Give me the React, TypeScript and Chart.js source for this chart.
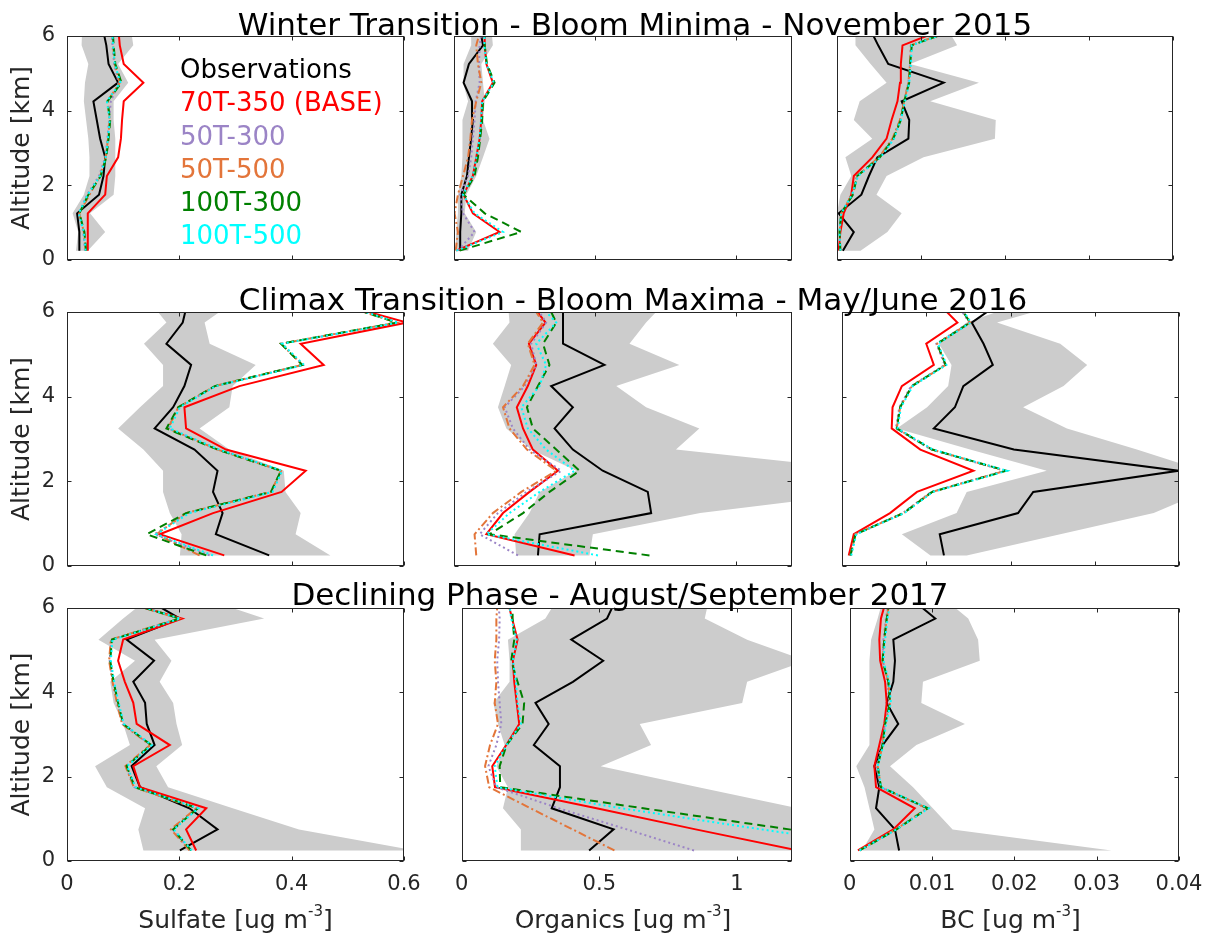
import React, { useEffect, useRef } from "react";
import { Chart, registerables } from "chart.js";

Chart.register(...registerables);

// ---------------- data ----------------
const ALTITUDE_KM = [0.25, 0.75, 1.25, 1.75, 2.25, 2.75, 3.25, 3.75, 4.25, 4.75, 5.25, 5.75, 6.25];
const ALT_TICKS = [0, 2, 4, 6];
const SULFATE_TICKS = [0, 0.2, 0.4, 0.6];
const ORGANICS_TICKS = [0, 0.5, 1];
const BC_TICKS = [0, 0.01, 0.02, 0.03, 0.04];
const X_TICKS = [SULFATE_TICKS, ORGANICS_TICKS, BC_TICKS];
const X_MAX = [0.6, 1.2, 0.04];
const Y_MAX = 6;

const SERIES_LABELS = ["Observations", "70T-350 (BASE)", "50T-300", "50T-500", "100T-300", "100T-500"];
const ROW_TITLES = [
  "Winter Transition - Bloom Minima - November 2015",
  "Climax Transition - Bloom Maxima - May/June 2016",
  "Declining Phase - August/September 2017",
];
const X_LABELS = ["Sulfate [ug m", "Organics [ug m", "BC [ug m"];
const X_LABEL_EXP = "-3";
const Y_LABEL = "Altitude [km]";

// Winter Transition - November 2015
const W_SO4_OBS = [0.022, 0.022, 0.018, 0.057, 0.065, 0.068, 0.059, 0.053, 0.047, 0.091, 0.074, 0.070, 0.063];
const W_SO4_BASE = [0.037, 0.037, 0.037, 0.068, 0.071, 0.091, 0.096, 0.098, 0.101, 0.136, 0.101, 0.094, 0.091];
const W_SO4_50T300 = [0.032, 0.029, 0.021, 0.036, 0.057, 0.068, 0.072, 0.075, 0.078, 0.092, 0.084, 0.081, 0.079];
const W_SO4_50T500 = [0.033, 0.030, 0.022, 0.040, 0.059, 0.069, 0.073, 0.076, 0.072, 0.094, 0.085, 0.082, 0.080];
const W_SO4_100T300 = [0.034, 0.031, 0.022, 0.038, 0.060, 0.070, 0.074, 0.077, 0.072, 0.097, 0.086, 0.083, 0.081];
const W_SO4_100T500 = [0.033, 0.030, 0.021, 0.037, 0.059, 0.069, 0.073, 0.076, 0.071, 0.095, 0.085, 0.082, 0.080];
const W_SO4_MIN = [0.016, 0.020, 0.010, 0.030, 0.040, 0.040, 0.038, 0.034, 0.030, 0.032, 0.038, 0.026, 0.027];
const W_SO4_MAX = [0.037, 0.068, 0.041, 0.083, 0.086, 0.086, 0.086, 0.083, 0.083, 0.109, 0.091, 0.118, 0.113];

const W_ORG_OBS = [0.022, 0.022, 0.026, 0.026, 0.046, 0.053, 0.061, 0.067, 0.064, 0.034, 0.053, 0.103, 0.091];
const W_ORG_BASE = [0.008, 0.162, 0.067, 0.034, 0.067, 0.079, 0.091, 0.097, 0.100, 0.138, 0.115, 0.109, 0.109];
const W_ORG_50T300 = [0.014, 0.073, 0.032, 0.022, 0.050, 0.061, 0.067, 0.073, 0.077, 0.091, 0.089, 0.091, 0.100];
const W_ORG_50T500 = [0.006, 0.014, 0.002, 0.014, 0.032, 0.050, 0.058, 0.064, 0.079, 0.097, 0.085, 0.079, 0.097];
const W_ORG_100T300 = [0.020, 0.239, 0.109, 0.034, 0.073, 0.085, 0.093, 0.100, 0.103, 0.144, 0.117, 0.109, 0.109];
const W_ORG_100T500 = [0.008, 0.174, 0.073, 0.032, 0.067, 0.079, 0.091, 0.096, 0.100, 0.141, 0.115, 0.108, 0.109];
const W_ORG_MIN = [0.006, 0.008, 0.014, 0.014, 0.026, 0.030, 0.030, 0.030, 0.050, 0.032, 0.034, 0.061, 0.061];
const W_ORG_MAX = [0.050, 0.079, 0.038, 0.044, 0.079, 0.103, 0.126, 0.103, 0.109, 0.103, 0.097, 0.138, 0.132];

const W_BC_OBS = [0.0007, 0.0020, 0.0002, 0.0029, 0.0038, 0.0048, 0.0085, 0.0086, 0.0077, 0.0127, 0.0061, 0.0049, 0.0038];
const W_BC_BASE = [0.0002, 0.0004, 0.0008, 0.0017, 0.0020, 0.0042, 0.0059, 0.0065, 0.0072, 0.0075, 0.0076, 0.0078, 0.0135];
const W_BC_50T300 = [0.0004, 0.0003, 0.0005, 0.0018, 0.0024, 0.0051, 0.0067, 0.0075, 0.0080, 0.0085, 0.0087, 0.0088, 0.0150];
const W_BC_50T500 = [0.0004, 0.0003, 0.0005, 0.0018, 0.0024, 0.0050, 0.0066, 0.0075, 0.0080, 0.0085, 0.0087, 0.0088, 0.0149];
const W_BC_100T300 = [0.0004, 0.0003, 0.0005, 0.0019, 0.0024, 0.0051, 0.0067, 0.0076, 0.0080, 0.0086, 0.0087, 0.0089, 0.0150];
const W_BC_100T500 = [0.0004, 0.0003, 0.0005, 0.0018, 0.0025, 0.0052, 0.0068, 0.0076, 0.0081, 0.0086, 0.0088, 0.0089, 0.0151];
const W_BC_MIN = [0.0002, 0.0002, 0.0000, 0.0004, 0.0017, 0.0010, 0.0042, 0.0020, 0.0027, 0.0059, 0.0040, 0.0022, 0.0022];
const W_BC_MAX = [0.0028, 0.0060, 0.0077, 0.0047, 0.0059, 0.0103, 0.0188, 0.0189, 0.0111, 0.0169, 0.0087, 0.0143, 0.0130];

// Climax Transition - May/June 2016
const S_SO4_OBS = [0.360, 0.265, 0.277, 0.260, 0.268, 0.227, 0.156, 0.189, 0.209, 0.221, 0.177, 0.206, 0.215];
const S_SO4_BASE = [0.280, 0.165, 0.260, 0.382, 0.425, 0.283, 0.212, 0.209, 0.307, 0.457, 0.416, 0.605, 0.469];
const S_SO4_50T300 = [0.254, 0.156, 0.215, 0.365, 0.382, 0.270, 0.180, 0.199, 0.264, 0.420, 0.382, 0.589, 0.472];
const S_SO4_50T500 = [0.236, 0.159, 0.212, 0.363, 0.381, 0.268, 0.180, 0.198, 0.263, 0.419, 0.381, 0.587, 0.469];
const S_SO4_100T300 = [0.248, 0.142, 0.212, 0.363, 0.381, 0.268, 0.177, 0.198, 0.263, 0.419, 0.381, 0.587, 0.472];
const S_SO4_100T500 = [0.260, 0.159, 0.218, 0.366, 0.383, 0.271, 0.183, 0.201, 0.265, 0.422, 0.383, 0.590, 0.472];
const S_SO4_MIN = [0.201, 0.204, 0.183, 0.171, 0.171, 0.136, 0.091, 0.130, 0.171, 0.171, 0.137, 0.177, 0.147];
const S_SO4_MAX = [0.469, 0.407, 0.416, 0.389, 0.386, 0.289, 0.236, 0.289, 0.295, 0.336, 0.254, 0.245, 0.298];

const S_ORG_OBS = [0.298, 0.304, 0.700, 0.688, 0.528, 0.422, 0.357, 0.422, 0.345, 0.534, 0.387, 0.387, 0.387];
const S_ORG_BASE = [0.428, 0.115, 0.174, 0.268, 0.369, 0.280, 0.245, 0.223, 0.262, 0.292, 0.266, 0.325, 0.268];
const S_ORG_50T300 = [0.227, 0.091, 0.156, 0.257, 0.381, 0.268, 0.209, 0.180, 0.251, 0.292, 0.274, 0.327, 0.280];
const S_ORG_50T500 = [0.079, 0.073, 0.138, 0.239, 0.363, 0.259, 0.197, 0.174, 0.245, 0.286, 0.262, 0.316, 0.268];
const S_ORG_100T300 = [0.694, 0.126, 0.245, 0.339, 0.446, 0.363, 0.280, 0.259, 0.298, 0.339, 0.316, 0.363, 0.327];
const S_ORG_100T500 = [0.511, 0.115, 0.197, 0.304, 0.428, 0.327, 0.262, 0.239, 0.304, 0.327, 0.292, 0.363, 0.292];
const S_ORG_MIN = [0.221, 0.215, 0.268, 0.304, 0.434, 0.274, 0.186, 0.156, 0.180, 0.203, 0.138, 0.197, 0.191];
const S_ORG_MAX = [0.481, 0.493, 0.874, 1.486, 1.486, 0.788, 0.871, 0.682, 0.576, 0.800, 0.623, 0.682, 0.753];

const S_BC_OBS = [0.0121, 0.0116, 0.0209, 0.0227, 0.0399, 0.0204, 0.0109, 0.0134, 0.0144, 0.0179, 0.0168, 0.0154, 0.0190];
const S_BC_BASE = [0.0008, 0.0014, 0.0057, 0.0089, 0.0156, 0.0093, 0.0059, 0.0060, 0.0071, 0.0109, 0.0100, 0.0137, 0.0112];
const S_BC_50T300 = [0.0010, 0.0016, 0.0072, 0.0106, 0.0193, 0.0106, 0.0064, 0.0068, 0.0082, 0.0122, 0.0112, 0.0151, 0.0135];
const S_BC_50T500 = [0.0010, 0.0016, 0.0073, 0.0107, 0.0194, 0.0107, 0.0065, 0.0069, 0.0083, 0.0123, 0.0113, 0.0152, 0.0136];
const S_BC_100T300 = [0.0010, 0.0016, 0.0073, 0.0107, 0.0195, 0.0107, 0.0065, 0.0069, 0.0083, 0.0123, 0.0113, 0.0152, 0.0136];
const S_BC_100T500 = [0.0011, 0.0017, 0.0074, 0.0108, 0.0196, 0.0108, 0.0066, 0.0070, 0.0084, 0.0124, 0.0114, 0.0153, 0.0137];
const S_BC_MIN = [0.0105, 0.0071, 0.0136, 0.0148, 0.0243, 0.0152, 0.0065, 0.0101, 0.0126, 0.0130, 0.0115, 0.0148, 0.0219];
const S_BC_MAX = [0.0148, 0.0259, 0.0370, 0.0429, 0.0429, 0.0350, 0.0267, 0.0215, 0.0263, 0.0291, 0.0259, 0.0184, 0.0271];

// Declining Phase - August/September 2017
const A_SO4_OBS = [0.201, 0.268, 0.218, 0.130, 0.115, 0.156, 0.142, 0.139, 0.118, 0.155, 0.106, 0.201, 0.136];
const A_SO4_BASE = [0.230, 0.212, 0.248, 0.130, 0.118, 0.183, 0.124, 0.118, 0.103, 0.091, 0.100, 0.205, 0.072];
const A_SO4_50T300 = [0.220, 0.188, 0.232, 0.120, 0.105, 0.149, 0.099, 0.090, 0.082, 0.076, 0.079, 0.200, 0.077];
const A_SO4_50T500 = [0.218, 0.185, 0.230, 0.119, 0.104, 0.148, 0.098, 0.089, 0.081, 0.075, 0.078, 0.199, 0.076];
const A_SO4_100T300 = [0.221, 0.189, 0.233, 0.121, 0.106, 0.150, 0.100, 0.091, 0.083, 0.077, 0.080, 0.201, 0.077];
const A_SO4_100T500 = [0.222, 0.190, 0.234, 0.122, 0.107, 0.151, 0.101, 0.092, 0.084, 0.078, 0.081, 0.202, 0.078];
const A_SO4_MIN = [0.136, 0.127, 0.139, 0.071, 0.050, 0.112, 0.100, 0.083, 0.077, 0.121, 0.056, 0.100, 0.147];
const A_SO4_MAX = [0.620, 0.413, 0.295, 0.180, 0.159, 0.205, 0.195, 0.189, 0.165, 0.186, 0.156, 0.351, 0.239];

const A_ORG_OBS = [0.463, 0.552, 0.327, 0.357, 0.357, 0.262, 0.316, 0.268, 0.404, 0.514, 0.398, 0.528, 0.564];
const A_ORG_BASE = [1.22, 0.85, 0.49, 0.121, 0.111, 0.162, 0.209, 0.200, 0.191, 0.186, 0.203, 0.183, 0.164];
const A_ORG_50T300 = [0.844, 0.600, 0.352, 0.126, 0.097, 0.126, 0.144, 0.138, 0.132, 0.129, 0.136, 0.138, 0.132];
const A_ORG_50T500 = [0.555, 0.403, 0.250, 0.100, 0.085, 0.103, 0.132, 0.120, 0.126, 0.120, 0.126, 0.126, 0.132];
const A_ORG_100T300 = [1.71, 1.19, 0.66, 0.140, 0.138, 0.163, 0.221, 0.227, 0.203, 0.180, 0.191, 0.185, 0.185];
const A_ORG_100T500 = [1.60, 1.09, 0.58, 0.130, 0.120, 0.163, 0.215, 0.203, 0.197, 0.186, 0.200, 0.180, 0.170];
const A_ORG_MIN = [0.215, 0.215, 0.150, 0.168, 0.126, 0.156, 0.132, 0.115, 0.174, 0.174, 0.168, 0.304, 0.351];
const A_ORG_MAX = [1.30, 1.30, 1.22, 0.86, 0.505, 0.688, 0.647, 1.019, 1.037, 1.25, 1.037, 0.883, 0.90];

const A_BC_OBS = [0.0060, 0.0055, 0.0032, 0.0036, 0.0030, 0.0040, 0.0059, 0.0045, 0.0053, 0.0055, 0.0053, 0.0104, 0.0073];
const A_BC_BASE = [0.0010, 0.0053, 0.0079, 0.0032, 0.0030, 0.0036, 0.0042, 0.0045, 0.0043, 0.0037, 0.0036, 0.0038, 0.0045];
const A_BC_50T300 = [0.0012, 0.0056, 0.0094, 0.0037, 0.0033, 0.0039, 0.0043, 0.0048, 0.0046, 0.0040, 0.0041, 0.0044, 0.0048];
const A_BC_50T500 = [0.0012, 0.0056, 0.0094, 0.0038, 0.0034, 0.0040, 0.0043, 0.0049, 0.0047, 0.0040, 0.0042, 0.0045, 0.0049];
const A_BC_100T300 = [0.0012, 0.0057, 0.0095, 0.0038, 0.0034, 0.0040, 0.0043, 0.0049, 0.0047, 0.0040, 0.0042, 0.0045, 0.0049];
const A_BC_100T500 = [0.0012, 0.0057, 0.0096, 0.0038, 0.0034, 0.0041, 0.0044, 0.0050, 0.0048, 0.0041, 0.0043, 0.0046, 0.0050];
const A_BC_MIN = [0.0015, 0.0030, 0.0024, 0.0018, 0.0008, 0.0024, 0.0024, 0.0024, 0.0024, 0.0024, 0.0026, 0.0034, 0.0041];
const A_BC_MAX = [0.0318, 0.0125, 0.0101, 0.0077, 0.0049, 0.0081, 0.0140, 0.0087, 0.0089, 0.0158, 0.0156, 0.0144, 0.0113];

// ---------------- styling ----------------
const SERIES_COLORS = ["#000000", "#ff0000", "#9b84c6", "#e3753a", "#008000", "#00ffff"];
const SERIES_DASH: number[][] = [[], [], [2, 3], [8, 3, 2, 3], [8, 5], [2, 3]];
const RANGE_COLOR = "#cccccc";
const AXIS_COLOR = "#262626";
const FONT = "'DejaVu Sans', 'Liberation Sans', sans-serif";

// plot-area boxes [left, right, top, bottom] in page pixels
const PANEL_BOXES: number[][][] = [
  [[67, 404, 36, 260], [454, 792, 36, 260], [837, 1173, 36, 260]],
  [[67, 404, 312, 566], [454, 792, 312, 566], [842, 1179, 312, 566]],
  [[67, 404, 608, 861], [454, 792, 608, 861], [842, 1179, 608, 861]],
];
const TITLE_CENTERS = [635, 633, 620];
const TITLE_BASELINES = [35, 310, 605];

type Panel = { row: number; col: number; series: number[][]; min: number[]; max: number[] };

const PANELS: Panel[] = [
  { row: 0, col: 0, series: [W_SO4_OBS, W_SO4_BASE, W_SO4_50T300, W_SO4_50T500, W_SO4_100T300, W_SO4_100T500], min: W_SO4_MIN, max: W_SO4_MAX },
  { row: 0, col: 1, series: [W_ORG_OBS, W_ORG_BASE, W_ORG_50T300, W_ORG_50T500, W_ORG_100T300, W_ORG_100T500], min: W_ORG_MIN, max: W_ORG_MAX },
  { row: 0, col: 2, series: [W_BC_OBS, W_BC_BASE, W_BC_50T300, W_BC_50T500, W_BC_100T300, W_BC_100T500], min: W_BC_MIN, max: W_BC_MAX },
  { row: 1, col: 0, series: [S_SO4_OBS, S_SO4_BASE, S_SO4_50T300, S_SO4_50T500, S_SO4_100T300, S_SO4_100T500], min: S_SO4_MIN, max: S_SO4_MAX },
  { row: 1, col: 1, series: [S_ORG_OBS, S_ORG_BASE, S_ORG_50T300, S_ORG_50T500, S_ORG_100T300, S_ORG_100T500], min: S_ORG_MIN, max: S_ORG_MAX },
  { row: 1, col: 2, series: [S_BC_OBS, S_BC_BASE, S_BC_50T300, S_BC_50T500, S_BC_100T300, S_BC_100T500], min: S_BC_MIN, max: S_BC_MAX },
  { row: 2, col: 0, series: [A_SO4_OBS, A_SO4_BASE, A_SO4_50T300, A_SO4_50T500, A_SO4_100T300, A_SO4_100T500], min: A_SO4_MIN, max: A_SO4_MAX },
  { row: 2, col: 1, series: [A_ORG_OBS, A_ORG_BASE, A_ORG_50T300, A_ORG_50T500, A_ORG_100T300, A_ORG_100T500], min: A_ORG_MIN, max: A_ORG_MAX },
  { row: 2, col: 2, series: [A_BC_OBS, A_BC_BASE, A_BC_50T300, A_BC_50T500, A_BC_100T300, A_BC_100T500], min: A_BC_MIN, max: A_BC_MAX },
];

// Box and inward tick marks on all four sides (MATLAB style)
const framePlugin = {
  id: "matlabFrame",
  afterDatasetsDraw(chart: any) {
    const { ctx, chartArea } = chart;
    const { left, right, top, bottom } = chartArea;
    const xs = chart.scales.x;
    const ys = chart.scales.y;
    const tl = 4;
    ctx.save();
    ctx.strokeStyle = AXIS_COLOR;
    ctx.lineWidth = 1;
    ctx.setLineDash([]);
    const l = Math.round(left) + 0.5;
    const r = Math.round(right) - 0.5;
    const t = Math.round(top) + 0.5;
    const b = Math.round(bottom) - 0.5;
    ctx.strokeRect(l, t, r - l, b - t);
    ctx.beginPath();
    xs.ticks.forEach((tk: any) => {
      const px = Math.round(xs.getPixelForValue(tk.value)) + 0.5;
      ctx.moveTo(px, b);
      ctx.lineTo(px, b - tl);
      ctx.moveTo(px, t);
      ctx.lineTo(px, t + tl);
    });
    ys.ticks.forEach((tk: any) => {
      const py = Math.round(ys.getPixelForValue(tk.value)) + 0.5;
      ctx.moveTo(l, py);
      ctx.lineTo(l + tl, py);
      ctx.moveTo(r, py);
      ctx.lineTo(r - tl, py);
    });
    ctx.stroke();
    ctx.restore();
  },
};

function PanelChart({ panel }: { panel: Panel }) {
  const ref = useRef<HTMLCanvasElement | null>(null);
  const [L, R, T, B] = PANEL_BOXES[panel.row][panel.col];
  const ML = panel.col === 0 ? L : 10;
  const MT = 30;
  const MR = 35;
  const MB = panel.row === 2 ? 50 : 30;
  const w = R - L + ML + MR;
  const h = B - T + MT + MB;

  useEffect(() => {
    if (!ref.current) return;
    const rangeData = [
      ...panel.min.map((v, i) => ({ x: v, y: ALTITUDE_KM[i] })),
      ...panel.max.map((v, i) => ({ x: v, y: ALTITUDE_KM[i] })).reverse(),
    ];
    const lineSets = panel.series.map((vals, s) => ({
      label: SERIES_LABELS[s],
      data: vals.map((v, i) => ({ x: v, y: ALTITUDE_KM[i] })),
      showLine: true,
      borderColor: SERIES_COLORS[s],
      backgroundColor: SERIES_COLORS[s],
      borderWidth: 2,
      borderDash: SERIES_DASH[s],
      pointRadius: 0,
      fill: false,
      tension: 0,
      order: 5 - s,
    }));
    const xTicks = X_TICKS[panel.col];
    const chart = new Chart(ref.current, {
      type: "scatter",
      data: {
        datasets: [
          ...lineSets,
          {
            label: "range",
            data: rangeData,
            showLine: true,
            borderColor: "rgba(0,0,0,0)",
            borderWidth: 1,
            backgroundColor: RANGE_COLOR,
            pointRadius: 0,
            fill: "shape",
            tension: 0,
            order: 10,
          },
        ],
      } as any,
      options: {
        responsive: false,
        animation: false,
        events: [],
        layout: { padding: { top: MT, right: MR, left: 0, bottom: 0 } },
        plugins: { legend: { display: false }, tooltip: { enabled: false }, title: { display: false } },
        scales: {
          x: {
            type: "linear",
            position: "bottom",
            min: 0,
            max: X_MAX[panel.col],
            afterBuildTicks: (s: any) => {
              s.ticks = xTicks.map((v) => ({ value: v }));
            },
            afterFit: (s: any) => {
              s.height = MB;
            },
            grid: { display: false, drawTicks: false },
            border: { display: false },
            ticks: {
              display: panel.row === 2,
              padding: 11,
              color: AXIS_COLOR,
              font: { family: FONT, size: 21 },
              maxRotation: 0,
              autoSkip: false,
              callback: (v: any) => String(v),
            },
          },
          y: {
            type: "linear",
            position: "left",
            min: 0,
            max: Y_MAX,
            afterBuildTicks: (s: any) => {
              s.ticks = ALT_TICKS.map((v) => ({ value: v }));
            },
            afterFit: (s: any) => {
              s.width = ML;
            },
            grid: { display: false, drawTicks: false },
            border: { display: false },
            ticks: {
              display: panel.col === 0,
              padding: 12,
              color: AXIS_COLOR,
              font: { family: FONT, size: 21 },
              autoSkip: false,
              callback: (v: any) => String(v),
            },
            title: {
              display: panel.col === 0,
              text: Y_LABEL,
              color: AXIS_COLOR,
              font: { family: FONT, size: 25 },
              padding: { top: 7, bottom: 0 },
            },
          },
        },
      } as any,
      plugins: [framePlugin],
    });
    return () => chart.destroy();
  }, []);

  return (
    <canvas
      ref={ref}
      width={w}
      height={h}
      style={{ position: "absolute", left: L - ML, top: T - MT, width: w, height: h }}
    />
  );
}

export default function App() {
  const colCenters = [0, 1, 2].map((c) => (PANEL_BOXES[2][c][0] + PANEL_BOXES[2][c][1]) / 2);
  return (
    <div
      style={{
        position: "absolute",
        left: 0,
        top: 0,
        width: 1207,
        height: 933,
        background: "#ffffff",
        overflow: "hidden",
        fontFamily: FONT,
      }}
    >
      {PANELS.map((p, i) => (
        <PanelChart key={i} panel={p} />
      ))}
      {ROW_TITLES.map((t, i) => (
        <div
          key={"t" + i}
          style={{
            position: "absolute",
            left: TITLE_CENTERS[i] - 500,
            width: 1000,
            top: TITLE_BASELINES[i] - 29,
            textAlign: "center",
            fontSize: 31,
            lineHeight: "36px",
            color: "#000",
            whiteSpace: "nowrap",
          }}
        >
          {t}
        </div>
      ))}
      {X_LABELS.map((t, i) => (
        <div
          key={"x" + i}
          style={{
            position: "absolute",
            left: colCenters[i] - 200,
            width: 400,
            top: 905,
            textAlign: "center",
            fontSize: 25,
            lineHeight: "30px",
            color: AXIS_COLOR,
            whiteSpace: "nowrap",
          }}
        >
          {t}
          <span style={{ fontSize: 15, position: "relative", top: -12 }}>{X_LABEL_EXP}</span>]
        </div>
      ))}
      <div
        style={{
          position: "absolute",
          left: 180,
          top: 53,
          fontSize: 26,
          lineHeight: "33.3px",
          whiteSpace: "nowrap",
        }}
      >
        {SERIES_LABELS.map((s, i) => (
          <div key={s} style={{ color: SERIES_COLORS[i] }}>
            {s}
          </div>
        ))}
      </div>
    </div>
  );
}
